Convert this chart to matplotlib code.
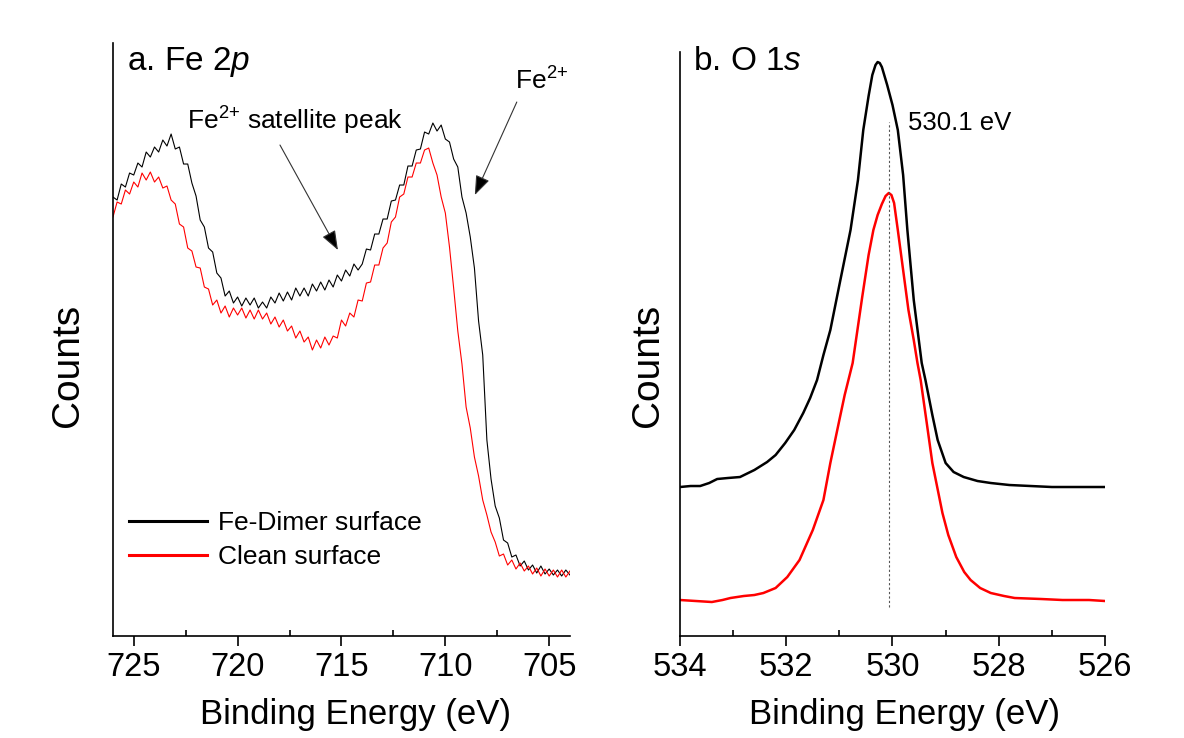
import numpy as np
import matplotlib
matplotlib.use('Agg')
import matplotlib.pyplot as plt
from matplotlib.lines import Line2D

plt.rcParams['font.family'] = ['Liberation Sans', 'DejaVu Sans']
plt.rcParams['mathtext.fontset'] = 'custom'
plt.rcParams['mathtext.rm'] = 'Liberation Sans'
plt.rcParams['mathtext.it'] = 'Liberation Sans:italic'

# Fe 2p spectra, every 0.2 eV from 726 down to 704 eV (arb. counts)
fe_dimer = [439, 436, 452, 449, 463, 461, 473, 469, 484, 479,
            489, 484, 496, 490, 502, 487, 489, 472, 472, 453,
            440, 416, 409, 388, 384, 363, 358, 340, 345, 333,
            339, 330, 338, 331, 338, 328, 334, 328, 339, 333,
            343, 335, 344, 336, 348, 340, 348, 340, 352, 345,
            354, 346, 356, 349, 361, 355, 366, 360, 372, 366,
            372, 387, 386, 402, 402, 417, 417, 435, 436, 451,
            451, 470, 470, 486, 487, 504, 502, 513, 505, 511,
            497, 494, 477, 469, 439, 423, 399, 368, 315, 281,
            196, 157, 130, 118, 96, 93, 79, 81, 70, 75,
            66, 71, 63, 70, 62, 67, 61, 66, 60, 66,
            61]
fe_clean = [419, 434, 432, 446, 442, 454, 449, 463, 456, 464,
            454, 459, 448, 450, 436, 432, 412, 409, 388, 385,
            369, 368, 349, 347, 331, 336, 323, 330, 319, 328,
            321, 328, 318, 326, 317, 326, 317, 323, 312, 319,
            309, 316, 305, 310, 298, 305, 294, 299, 286, 296,
            288, 299, 291, 300, 298, 316, 310, 323, 319, 336,
            335, 353, 354, 371, 371, 388, 393, 414, 419, 439,
            442, 459, 459, 473, 473, 486, 488, 473, 461, 439,
            423, 389, 348, 305, 272, 229, 208, 179, 160, 136,
            121, 104, 94, 80, 82, 71, 76, 67, 73, 65,
            70, 62, 68, 60, 67, 60, 66, 59, 66, 59,
            65]
fe_energy = np.linspace(726, 704, len(fe_dimer))

# O 1s spectra (binding energy, counts)
o_dimer_e = [534.0, 533.8, 533.62, 533.45, 533.3, 533.1, 532.87, 532.6, 532.36, 532.2,
             532.02, 531.85, 531.68, 531.55, 531.42, 531.3, 531.17, 531.0, 530.79, 530.65,
             530.55, 530.45, 530.38, 530.32, 530.28, 530.24, 530.2, 530.1, 530.0, 529.9,
             529.8, 529.72, 529.6, 529.45, 529.38, 529.25, 529.15, 529.0, 528.85, 528.66,
             528.4, 528.15, 527.8, 527.4, 527.0, 526.6, 526.0]
o_dimer = [149, 150, 150, 153, 157, 158, 159, 166, 174, 181,
           193, 206, 223, 238, 256, 281, 306, 351, 406, 456,
           506, 540, 561, 571, 574, 573, 569, 551, 531, 506,
           461, 406, 336, 273, 256, 221, 196, 173, 164, 159,
           155, 153, 151, 150, 149, 149, 149]
o_clean_e = [534.0, 533.7, 533.4, 533.2, 533.05, 532.8, 532.6, 532.43, 532.2, 531.98,
             531.75, 531.5, 531.3, 531.17, 531.0, 530.9, 530.75, 530.57, 530.45, 530.36,
             530.28, 530.2, 530.13, 530.07, 530.02, 529.97, 529.9, 529.8, 529.7, 529.6,
             529.53, 529.47, 529.35, 529.25, 529.06, 528.95, 528.8, 528.65, 528.53, 528.35,
             528.15, 527.9, 527.7, 527.2, 526.8, 526.3, 526.0]
o_clean = [36, 35, 34, 36, 38, 40, 41, 43, 48, 59,
           76, 106, 136, 173, 216, 241, 273, 339, 381, 406,
           421, 432, 440, 443, 441, 433, 406, 366, 326, 296,
           273, 256, 211, 173, 123, 101, 79, 64, 56, 48,
           43, 40, 38, 37, 36, 36, 35]
o_peak = 530.07

fig = plt.figure(figsize=(11.84, 7.38), dpi=100)
ax1 = fig.add_axes([0.0954, 0.1382, 0.3860, 0.8035])
ax2 = fig.add_axes([0.5743, 0.1382, 0.3590, 0.7913])

ax1.plot(fe_energy, fe_dimer, color='black', lw=0.8)
ax1.plot(fe_energy, fe_clean, color='red', lw=0.8)
ax1.set_xlim(726, 704)
ax1.set_ylim(0, 593)

ax2.plot(o_dimer_e, o_dimer, color='black', lw=1.8)
ax2.plot(o_clean_e, o_clean, color='red', lw=1.8)
ax2.set_xlim(534, 526)
ax2.set_ylim(0, 584)
ax2.plot([o_peak, o_peak], [29, 514], color='#555555', lw=0.8, ls=(0, (2, 2)))

for ax, major, minor in [(ax1, [725, 720, 715, 710, 705], [722.5, 717.5, 712.5, 707.5]),
                         (ax2, [534, 532, 530, 528, 526], [533, 531, 529, 527])]:
    ax.spines['top'].set_visible(False)
    ax.spines['right'].set_visible(False)
    ax.spines['left'].set_linewidth(1.2)
    ax.spines['bottom'].set_linewidth(1.2)
    ax.set_yticks([])
    ax.set_xticks(major)
    ax.set_xticks(minor, minor=True)
    ax.tick_params(axis='x', which='major', direction='out', length=7.2, width=1.2,
                   labelsize=23.5, pad=4)
    ax.tick_params(axis='x', which='minor', direction='in', length=4.3, width=1.2)
    ax.set_xticklabels([str(v) for v in major])
    ax.set_xlabel('Binding Energy (eV)', fontsize=25)
    ax.set_ylabel('Counts', fontsize=28)

ax1.xaxis.set_label_coords(0.53, -0.105)
ax2.xaxis.set_label_coords(0.529, -0.107)
ax1.yaxis.set_label_coords(-0.059, 0.457)
ax2.yaxis.set_label_coords(-0.032, 0.464)

ax1.text(0.0306, 0.9545, 'a. Fe 2$\\it{p}$', transform=ax1.transAxes, fontsize=24,
         ha='left', va='baseline')
ax2.text(0.0306, 0.969, 'b. O 1$\\it{s}$', transform=ax2.transAxes, fontsize=24,
         ha='left', va='baseline')

arrow = dict(arrowstyle='-|>,head_length=1.2,head_width=0.45', lw=0.8, color='#333333',
             fc='black', shrinkA=0, shrinkB=0, mutation_scale=10)
ax1.text(722.43, 506, 'Fe$^{2{+}}$ satellite peak', fontsize=19, ha='left', va='baseline')
ax1.annotate('', xy=(715.17, 386), xytext=(717.96, 491), arrowprops=arrow)
ax1.text(706.66, 546, 'Fe$^{2{+}}$', fontsize=19, ha='left', va='baseline')
ax1.annotate('', xy=(708.58, 441), xytext=(706.56, 534), arrowprops=arrow)

ax2.text(529.70, 506, '530.1 eV', fontsize=18.5, ha='left', va='baseline')

handles = [Line2D([], [], color='black', lw=2.2), Line2D([], [], color='red', lw=2.2)]
ax1.legend(handles, ['Fe-Dimer surface', 'Clean surface'], loc='upper left',
           bbox_to_anchor=(0.035, 0.211), frameon=False, fontsize=19,
           handlelength=2.95, handletextpad=0.42, labelspacing=0.38,
           borderpad=0, borderaxespad=0)

fig.savefig('out.png', dpi=100)
